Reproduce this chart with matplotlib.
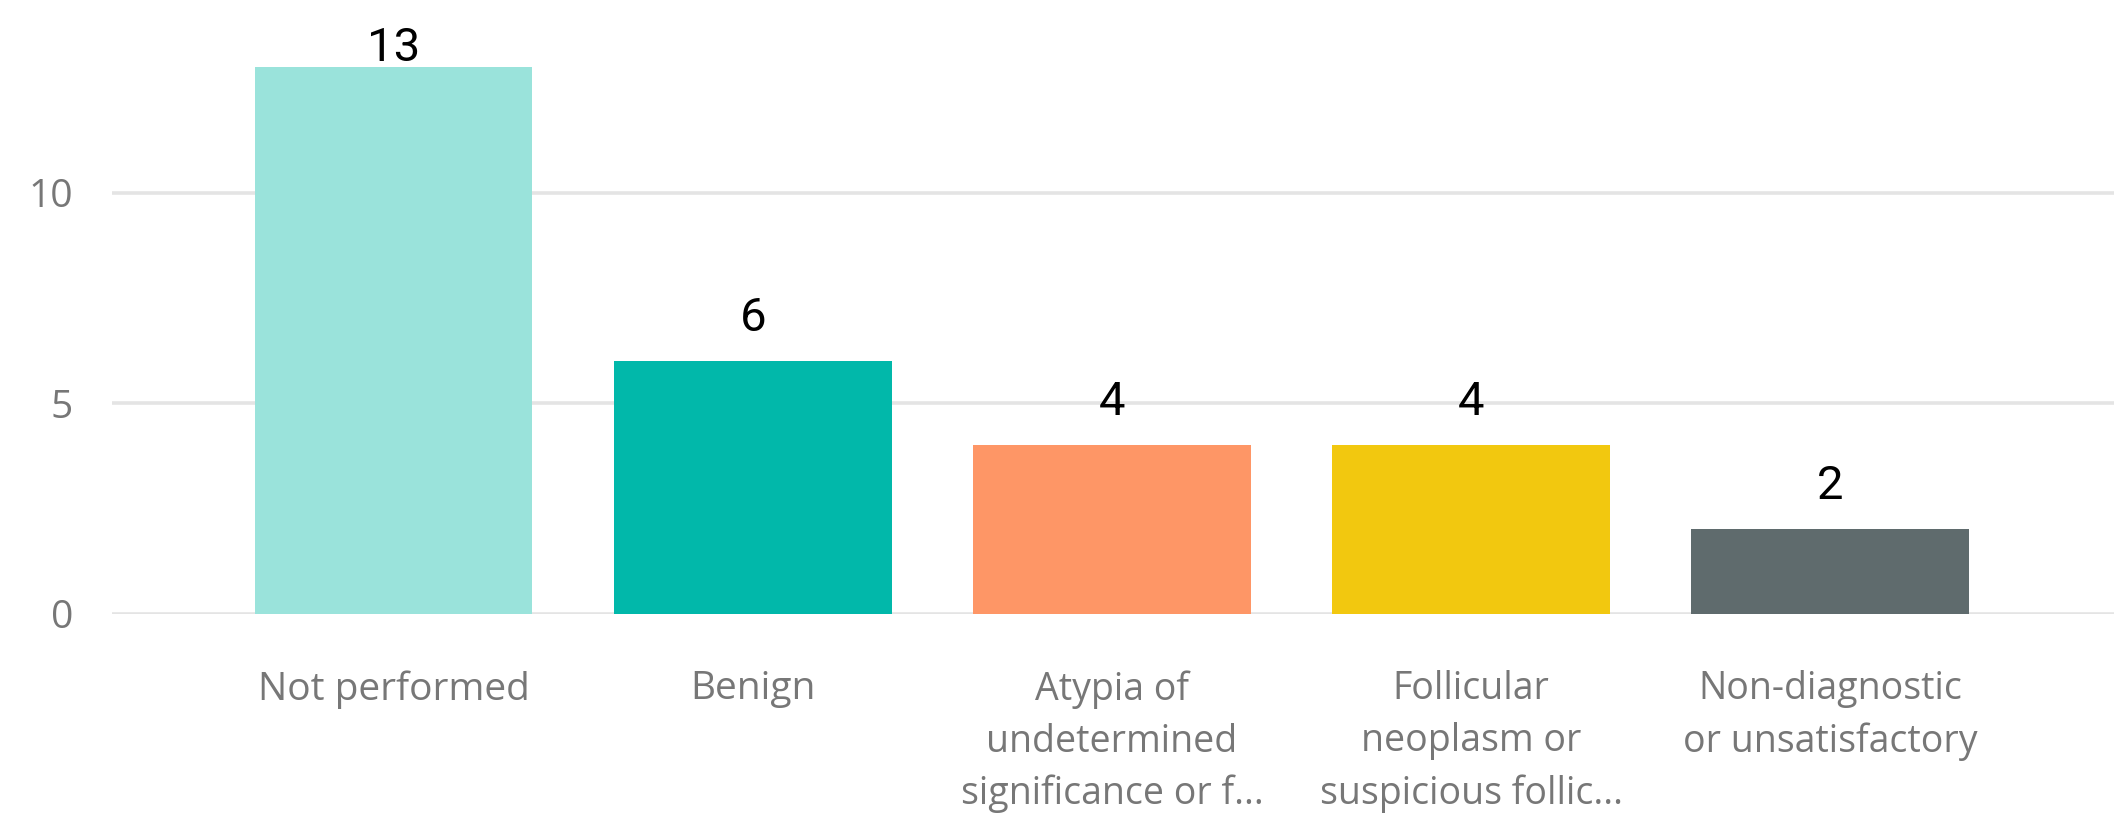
import matplotlib.pyplot as plt
from matplotlib import font_manager
import numpy as np

# category counts
categories = ["Not performed", "Benign",
              "Atypia of\nundetermined\nsignificance or f...",
              "Follicular\nneoplasm or\nsuspicious follic...",
              "Non-diagnostic\nor unsatisfactory"]
counts = [13, 6, 4, 4, 2]
barColors = ["#9AE3DB", "#01B8AA", "#FE9666", "#F2C80F", "#5F6B6D"]
yticks = [0, 5, 10]

installed = {f.name for f in font_manager.fontManager.ttflist}
narrowFont = "Liberation Sans Narrow" if "Liberation Sans Narrow" in installed else "Open Sans"

fig = plt.figure(figsize=(21.14, 8.18), dpi=100)
ax = fig.add_axes([0.053, 0.25, 0.947, 0.701])

x = np.arange(len(categories))
bars = ax.bar(x, counts, 0.773, color=barColors, zorder=2)

ax.set_xlim(-0.784, 4.79)
ax.set_ylim(0, 13.63)
ax.set_yticks(yticks)
ax.yaxis.grid(True, color="#E4E4E4", linewidth=2.6, zorder=0)
ax.set_axisbelow(True)
for s in ax.spines.values():
    s.set_visible(False)
ax.tick_params(axis="both", length=0, labelcolor="#777777")
ax.tick_params(axis="y", labelsize=28, pad=28)
for lbl in ax.get_yticklabels():
    lbl.set_fontfamily("Open Sans")

ax.set_xticks(x)
ax.set_xticklabels(categories, fontsize=28, linespacing=1.47)
ax.tick_params(axis="x", pad=41)
for lbl, name in zip(ax.get_xticklabels(), categories):
    lbl.set_fontfamily(narrowFont if "\n" in name else "Open Sans")
    if "\n" in name and narrowFont == "Open Sans":
        lbl.set_fontsize(27)

# value labels above bars (kept inside the plot at the top)
for rect, v in zip(bars, counts):
    yPos = min(v + 0.71, 13.13)
    ax.text(rect.get_x() + rect.get_width() / 2, yPos, str(v),
            ha="center", va="baseline", fontsize=34, color="black",
            fontfamily="Roboto", clip_on=False)

fig.savefig("out.png", dpi=100)
